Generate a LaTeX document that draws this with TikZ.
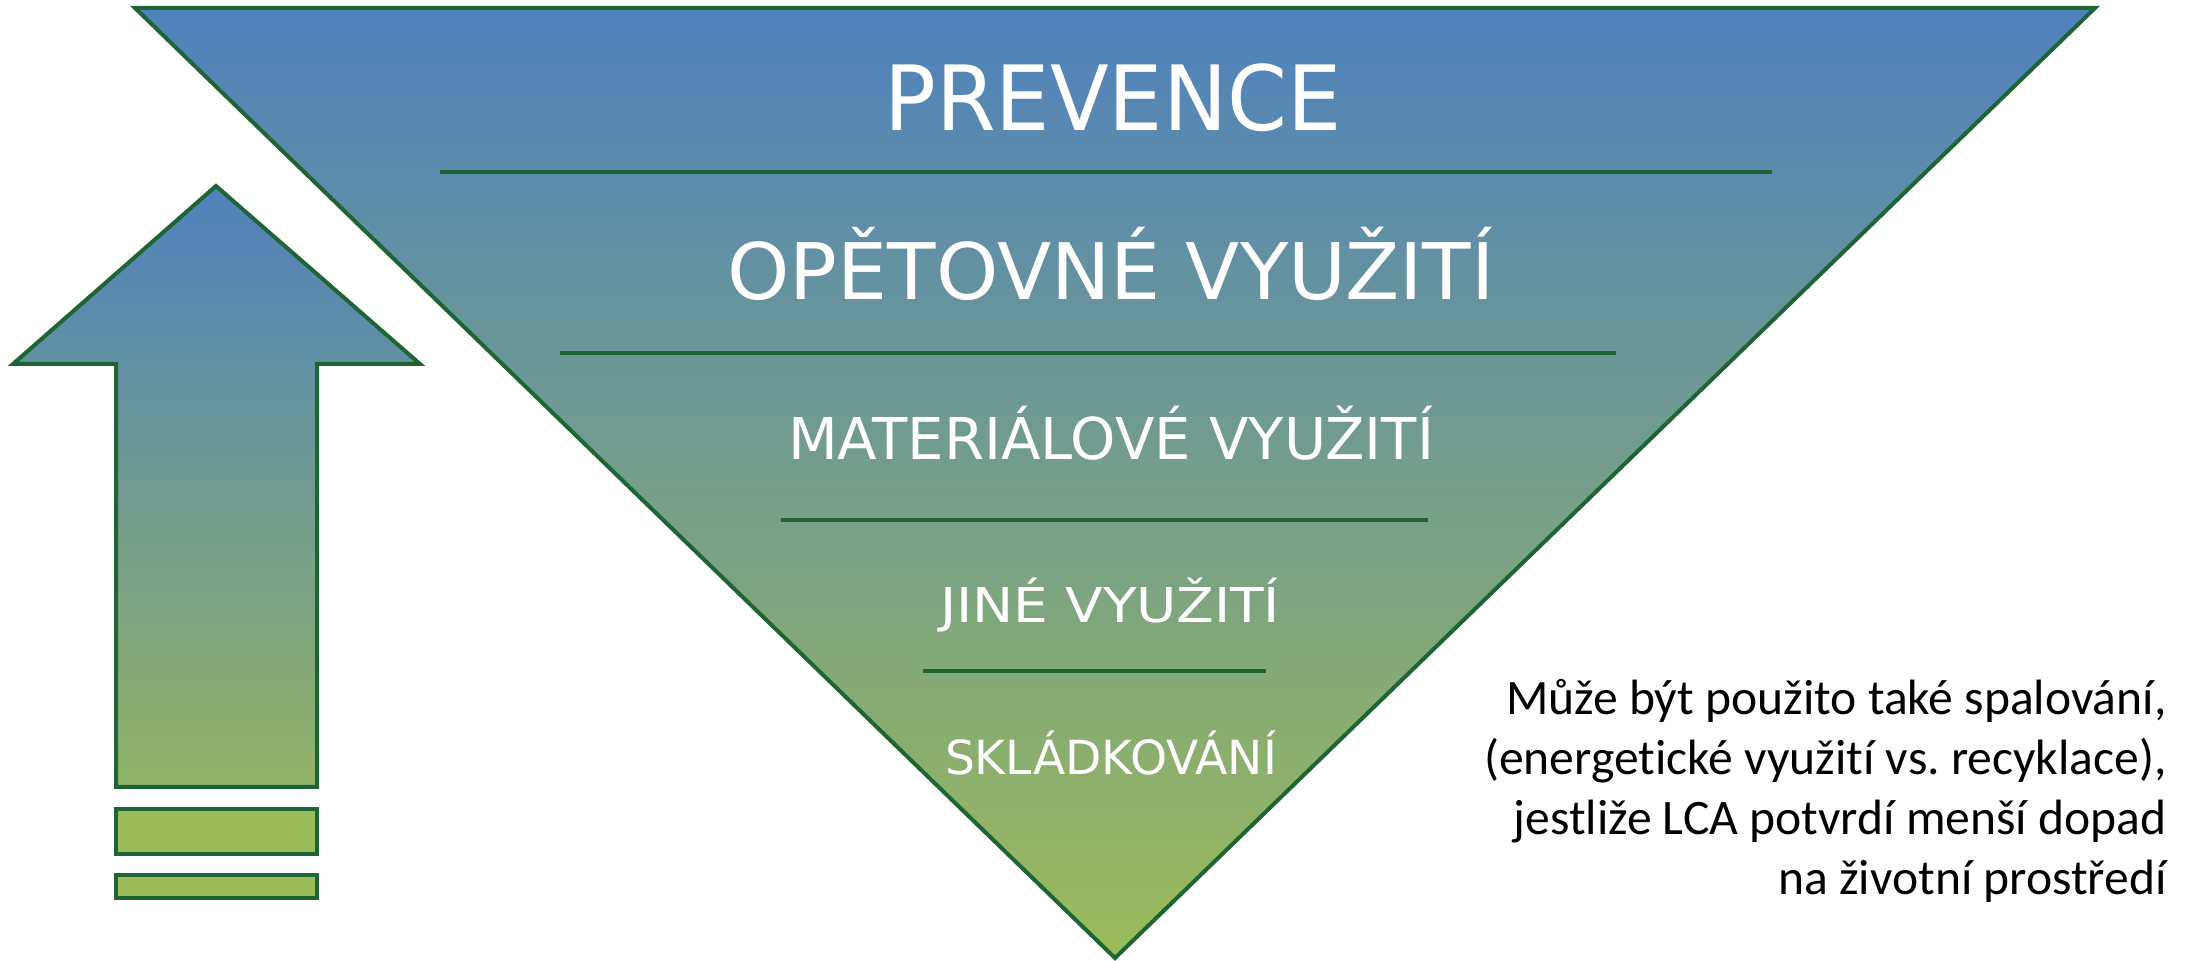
\documentclass[tikz,border=0pt]{standalone}
\usepackage{fontspec}
\setmainfont{Carlito}[Ligatures=NoCommon]
\newfontfamily\tfont{DejaVu Sans}
\newsavebox\fitbox
\newcommand\fitw[2]{\sbox\fitbox{#2}\pgfmathsetmacro\fitsx{#1/\the\wd\fitbox}\scalebox{\fitsx}[1]{\usebox\fitbox}}
\definecolor{bblue}{RGB}{79,129,189}
\definecolor{ggreen}{RGB}{155,187,89}
\definecolor{dgreen}{RGB}{30,100,52}
\tikzset{
  outl/.style={draw=dgreen, line width=2pt, line join=miter},
  grad/.style={top color=bblue, bottom color=ggreen},
  sepline/.style={draw=dgreen, line width=2pt},
  lbl/.style={anchor=base, inner sep=0pt, text=white, font=\tfont},
  barbox/.style={outl, fill=ggreen},
}
\begin{document}
\begin{tikzpicture}[x=0.5pt,y=-0.5pt]
\useasboundingbox (0,0) rectangle (2196,961);
% inverted triangle
\draw[outl, grad] (135,8) -- (2095,8) -- (1115,958) -- cycle;
% separators
\draw[sepline] (440,172) -- (1772,172);
\draw[sepline] (560,353) -- (1616,353);
\draw[sepline] (781,520) -- (1428,520);
\draw[sepline] (923,671) -- (1266,671);
% labels
\node[lbl] (prev) at (1113,131) {\fitw{228.5pt}{\fontsize{45}{54}\selectfont PREVENCE}};
\node[lbl] (opet) at (1111,300) {\fitw{383.5pt}{\fontsize{39}{47}\selectfont OPĚTOVNÉ VYUŽITÍ}};
\node[lbl] (mat) at (1111,460) {\fitw{323pt}{\fontsize{28.8}{35}\selectfont MATERIÁLOVÉ VYUŽITÍ}};
\node[lbl] (jine) at (1110,623) {\fitw{170pt}{\fontsize{24}{29}\selectfont JINÉ VYUŽITÍ}};
\node[lbl] (skl) at (1111,775) {\fitw{166pt}{\fontsize{23.5}{28}\selectfont SKLÁDKOVÁNÍ}};
% arrow
\draw[outl, path picture={\shade[grad] (0,186) rectangle (440,880);}]
  (216,186) -- (420,364) -- (317,364) -- (317,787) -- (116,787) -- (116,364) -- (13,364) -- cycle;
\draw[barbox] (116,809) rectangle (317,854);
\draw[barbox] (116,875) rectangle (317,898);
% note
\node[anchor=base east, inner sep=0pt, text=black] (note) at (2167,715)
  {\fontsize{24.8}{30}\selectfont\frenchspacing\begin{tabular}[t]{@{}r@{}}Může být použito také spalování,\\ (energetické využití vs. recyklace),\\ jestliže LCA potvrdí menší dopad\\ na životní prostředí\end{tabular}};
\end{tikzpicture}
\end{document}
